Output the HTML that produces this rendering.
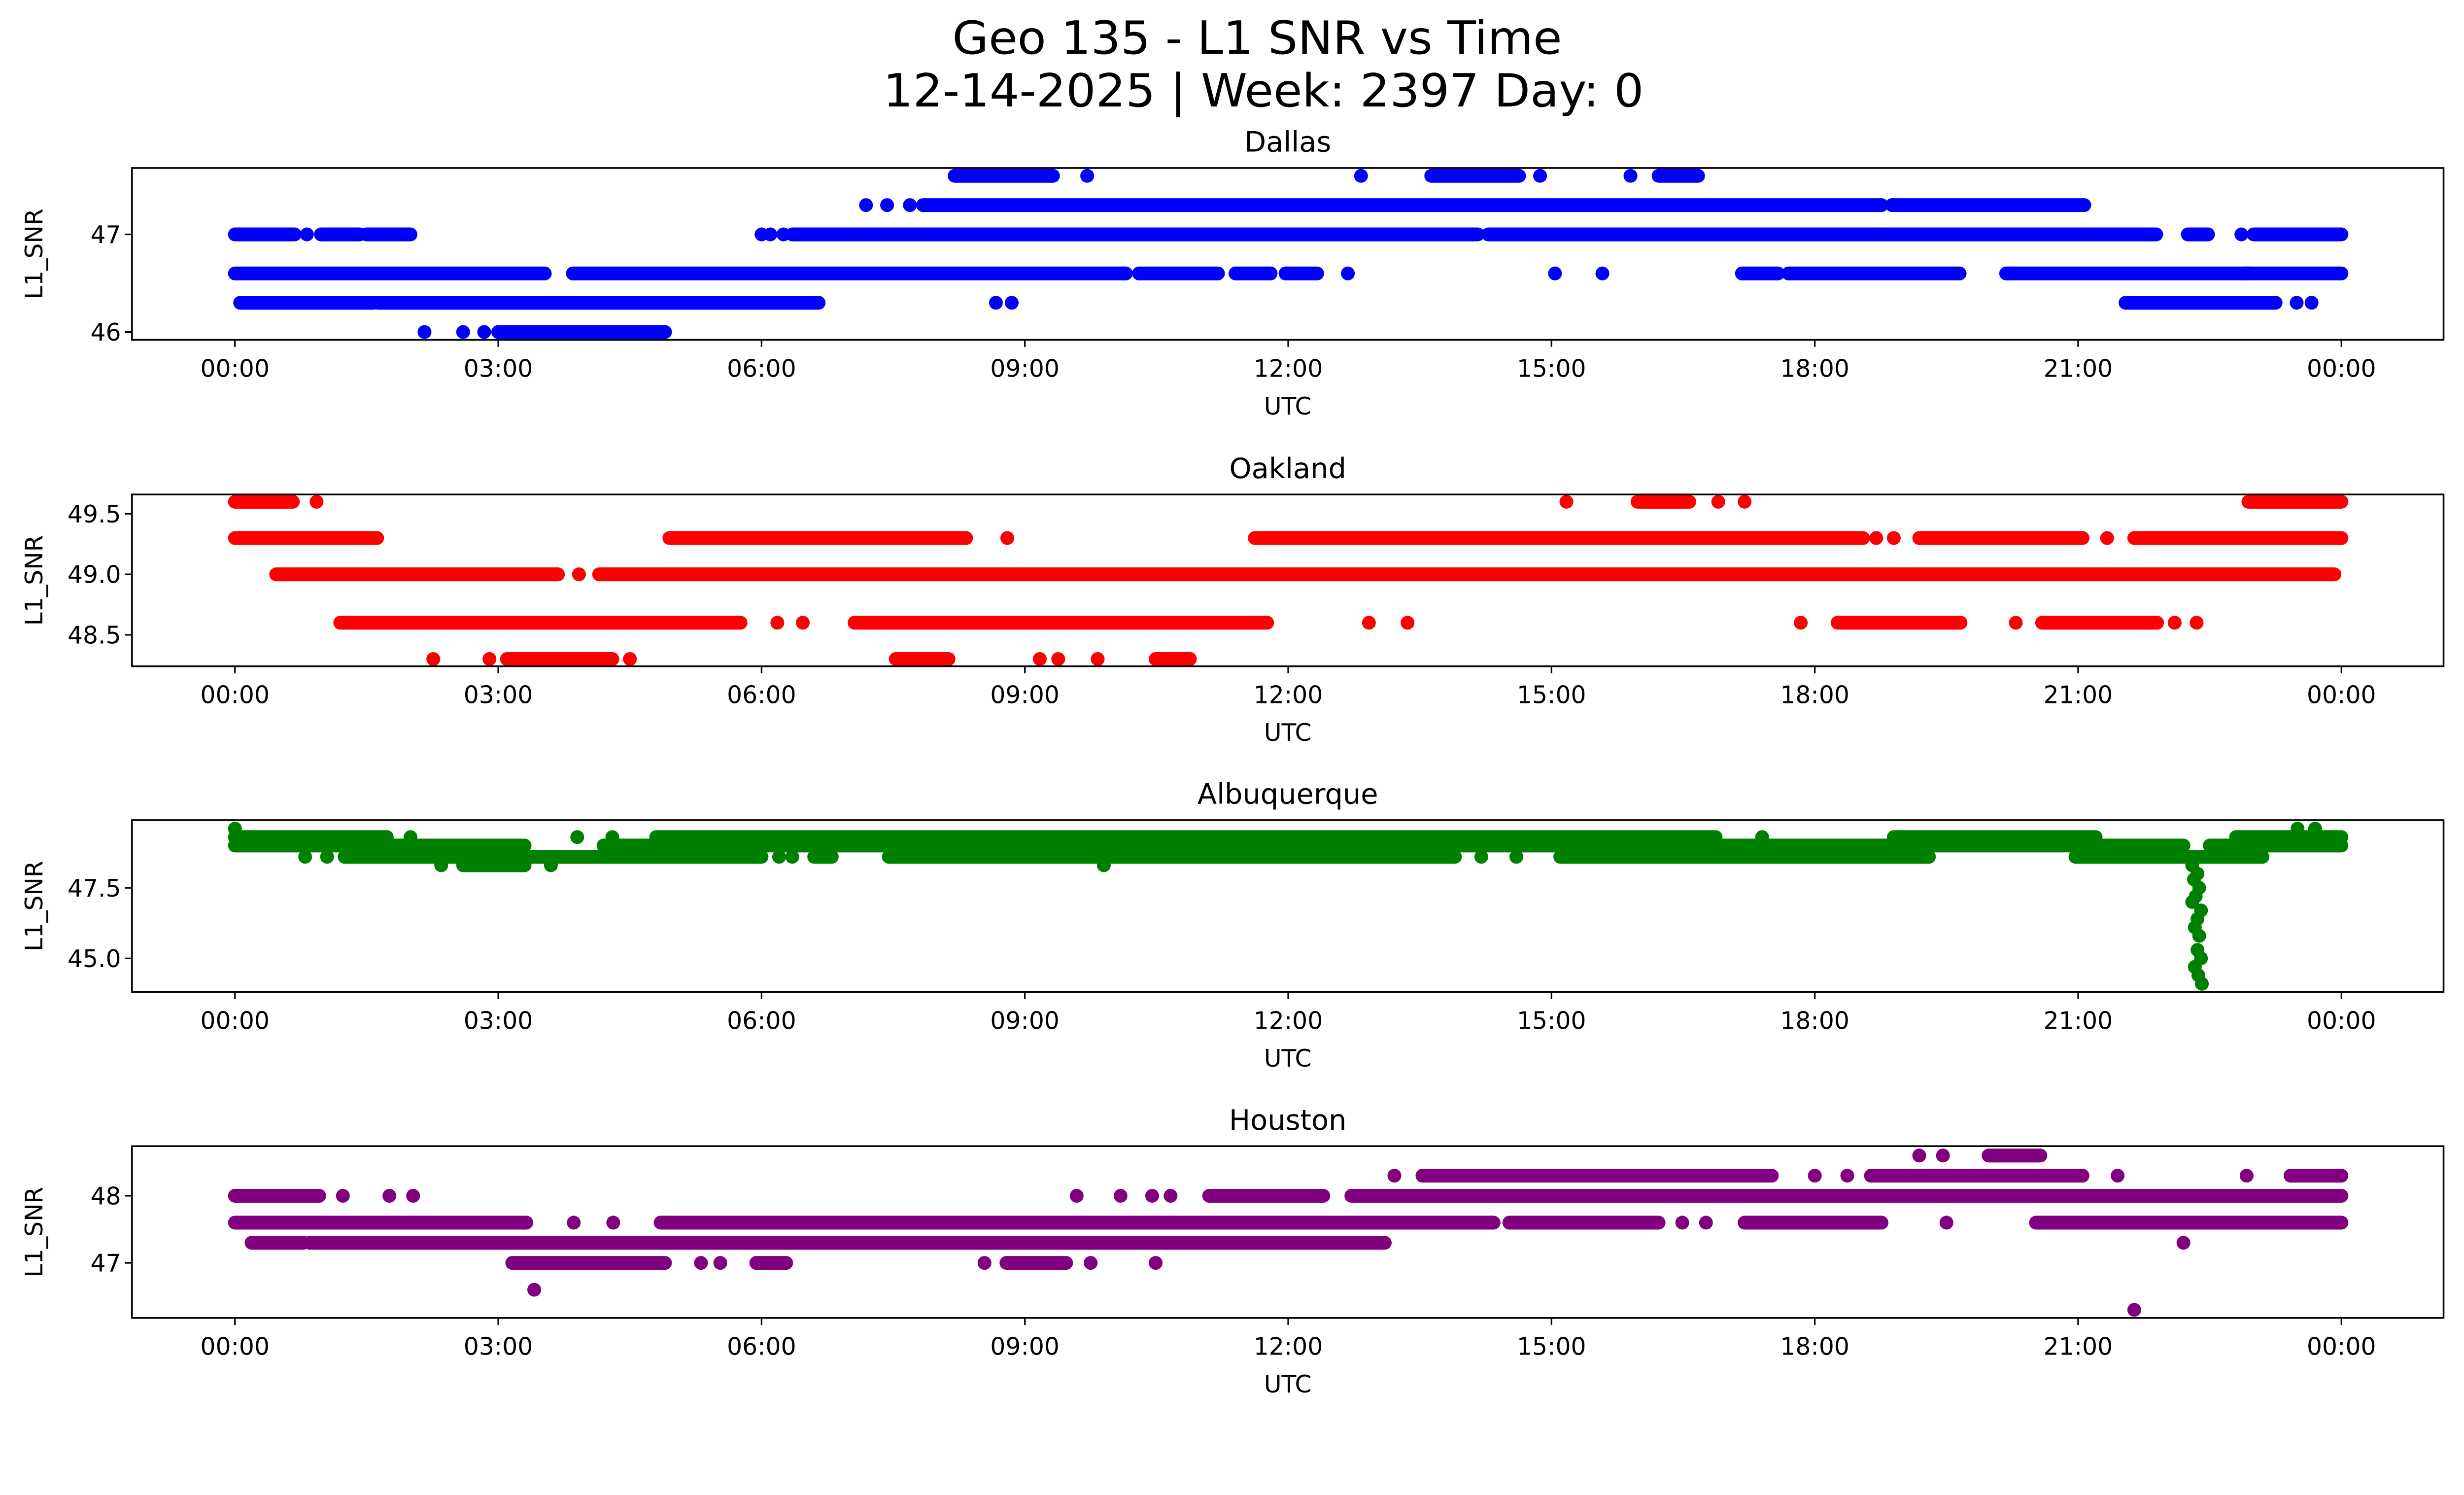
<!DOCTYPE html>
<html><head><meta charset="utf-8"><style>
html,body{margin:0;padding:0;background:#fff;overflow:hidden;}
svg{display:block;position:absolute;left:0;top:0;width:100vw;height:auto;font-family:"DejaVu Sans","Liberation Sans",sans-serif;}
</style></head><body>
<svg id="fig" xmlns="http://www.w3.org/2000/svg" viewBox="0 0 1568 901" preserveAspectRatio="xMinYMin meet">
<rect x="0" y="0" width="1568" height="901" fill="#fff"/>
<text x="800" y="34.2" font-size="29" text-anchor="middle" textLength="388" lengthAdjust="spacingAndGlyphs">Geo 135 - L1 SNR vs Time</text>
<text x="804" y="67.8" font-size="29" text-anchor="middle" textLength="484" lengthAdjust="spacingAndGlyphs">12-14-2025 | Week: 2397 Day: 0</text>
<g id="panels"></g>
</svg>
<script>
// x-axis ticks (hours) and labels
const xTickHours = [0,3,6,9,12,15,18,21,24];
const xTickLabels = ["00:00","03:00","06:00","09:00","12:00","15:00","18:00","21:00","00:00"];

// ---- Dallas ----
const dalRunV = [47.0,47.0,47.0,47.0,47.0,47.0,47.0, 46.6,46.6,46.6,46.6,46.6,46.6,46.6,46.6,46.6, 46.3,46.3,46.3, 46.0, 47.3,47.3, 47.6,47.6,47.6];
const dalRunS = [0.0,0.98,1.5,6.35,14.28,23.0,22.25, 0.0,3.85,10.3,11.4,11.97,17.17,17.7,20.18,22.9, 0.06,1.63,21.54, 3.0, 7.84,18.88, 8.2,13.63,16.22];
const dalRunE = [0.68,1.42,2.0,14.16,21.89,24.0,22.48, 3.53,10.15,11.2,11.8,12.33,17.58,19.65,24.0,22.95, 1.58,6.65,23.25, 4.9, 18.76,21.07, 9.32,14.63,16.67];
const dalDotV = [47.0,47.0,47.0,47.0,47.0, 46.6,46.6,46.6, 46.3,46.3,46.3,46.3, 46.0,46.0,46.0, 47.3,47.3,47.3, 47.6,47.6,47.6,47.6];
const dalDotT = [0.82,6.0,6.1,6.25,22.86, 12.68,15.04,15.58, 8.67,8.85,23.49,23.66, 2.16,2.6,2.84, 7.19,7.43,7.69, 9.71,12.83,14.87,15.9];

// ---- Oakland ----
const oakRunV = [49.6,49.6,49.6, 49.3,49.3,49.3,49.3,49.3, 49.0,49.0, 48.6,48.6,48.6,48.6, 48.3,48.3,48.3];
const oakRunS = [0.0,15.98,22.94, 0.0,4.95,11.62,19.19,21.64, 0.47,4.15, 1.2,7.06,18.26,20.59, 3.1,7.53,10.49];
const oakRunE = [0.66,16.57,24.0, 1.62,8.33,18.55,21.05,24.0, 3.68,23.92, 5.76,11.76,19.66,21.9, 4.3,8.13,10.88];
const oakDotV = [49.6,49.6,49.6,49.6, 49.3,49.3,49.3,49.3, 49.0, 48.6,48.6,48.6,48.6,48.6,48.6,48.6,48.6, 48.3,48.3,48.3,48.3,48.3,48.3];
const oakDotT = [0.93,15.17,16.9,17.2, 8.8,18.7,18.9,21.33, 3.92, 6.18,6.47,12.92,13.36,17.84,20.29,22.1,22.35, 2.26,2.9,4.5,9.17,9.38,9.83];

// ---- Albuquerque ----
const albRunV = [49.3,49.3,49.3,49.3, 49.0,49.0,49.0, 48.6,48.6,48.6,48.6,48.6, 48.3];
const albRunS = [0.0,4.8,18.9,22.8, 0.0,4.2,22.5, 1.25,6.6,7.45,15.1,20.97, 2.6];
const albRunE = [1.73,16.87,21.2,24.0, 3.3,22.2,24.0, 6.0,6.8,13.9,19.3,23.1, 3.3];
const albDotV = [49.6,49.6,49.6, 49.3,49.3,49.3,49.3, 48.6,48.6,48.6,48.6,48.6,48.6, 48.3,48.3,48.3, 48.3,48.0,47.8,47.5,47.2,47.0,46.7,46.4,46.1,45.8,45.3,45.0,44.7,44.4,44.1];
const albDotT = [0.0,23.5,23.7, 2.0,3.9,4.3,17.4, 0.8,1.05,6.2,6.35,14.2,14.6, 2.35,3.6,9.9, 22.3,22.36,22.32,22.38,22.34,22.3,22.4,22.36,22.33,22.38,22.36,22.4,22.33,22.37,22.41];

// ---- Houston ----
const houRunV = [48.6, 48.3,48.3,48.3, 48.0,48.0,48.0,48.0, 47.6,47.6,47.6,47.6,47.6, 47.3,47.3, 47.0,47.0,47.0];
const houRunS = [19.98, 13.53,18.64,23.42, 0.0,11.1,11.86,12.72, 0.0,4.85,14.52,17.2,20.52, 0.19,0.85, 3.16,5.94,8.79];
const houRunE = [20.57, 17.51,21.05,24.0, 0.96,11.86,12.4,24.0, 3.32,14.34,16.22,18.76,24.0, 0.78,13.1, 4.9,6.28,9.47];
const houDotV = [48.6,48.6, 48.3,48.3,48.3,48.3,48.3, 48.0,48.0,48.0,48.0,48.0,48.0,48.0, 47.6,47.6,47.6,47.6,47.6, 47.3, 47.0,47.0,47.0,47.0,47.0, 46.6, 46.3];
const houDotT = [19.19,19.46, 13.21,18.0,18.37,21.45,22.92, 1.23,1.76,2.03,9.59,10.09,10.45,10.66, 3.86,4.31,16.49,16.76,19.5, 22.2, 5.31,5.53,8.54,9.75,10.49, 3.41, 21.64];

// panel names, colours, y tick values/labels
const panelNames = ["Dallas","Oakland","Albuquerque","Houston"];
const panelColors = ["#0000ff","#ff0000","#008000","#800080"];
const yTickVals = [[46,47],[48.5,49.0,49.5],[45.0,47.5],[47,48]];
const yTickLabels = [["46","47"],["48.5","49.0","49.5"],["45.0","47.5"],["47","48"]];
const yMinVals = [45.92,48.24,43.81,46.18];
const yMaxVals = [47.68,49.66,49.90,48.74];

const runSets = [[dalRunV,dalRunS,dalRunE],[oakRunV,oakRunS,oakRunE],[albRunV,albRunS,albRunE],[houRunV,houRunS,houRunE]];
const dotSets = [[dalDotV,dalDotT],[oakDotV,oakDotT],[albDotV,albDotT],[houDotV,houDotT]];

const NS = "http://www.w3.org/2000/svg";
const root = document.getElementById("panels");
const AX_L = 84, AX_R = 1555, X0 = 149.5, X24 = 1490;
const tops = [106.9, 314.6, 521.8, 729.2];
const H = 109.3;
const R = 4.4;
function xScale(h){ return X0 + (X24 - X0) * h / 24; }
function mk(tag, attrs){ const e = document.createElementNS(NS, tag); for (const k in attrs) e.setAttribute(k, attrs[k]); return e; }

panelNames.forEach((name, p) => {
  const top = tops[p], bot = top + H;
  const yScale = v => bot - (v - yMinVals[p]) / (yMaxVals[p] - yMinVals[p]) * H;
  const g = mk("g", {});
  
  
  root.appendChild(g);

  const title = mk("text", {x: (AX_L + AX_R) / 2, y: top - 10.4, "font-size": 18, "text-anchor": "middle"});
  
  
  title.textContent = name;
  g.appendChild(title);

  const clip = mk("clipPath", {id: "clip" + p});
  clip.appendChild(mk("rect", {x: AX_L, y: top, width: AX_R - AX_L, height: H}));
  g.appendChild(clip);
  const marks = mk("g", {"clip-path": "url(#clip" + p + ")", fill: panelColors[p], stroke: panelColors[p]});
  
  
  g.appendChild(marks);

  const [rv, rs, re] = runSets[p];
  rv.forEach((v, i) => {
    const ln = mk("line", {x1: xScale(rs[i]), x2: xScale(re[i]), y1: yScale(v), y2: yScale(v), "stroke-width": 2 * R, "stroke-linecap": "round"});
    
    
    marks.appendChild(ln);
  });
  const [dv, dt] = dotSets[p];
  dv.forEach((v, i) => {
    const c = mk("ellipse", {cx: xScale(dt[i]), cy: yScale(v), rx: R, ry: R, stroke: "none"});
    
    
    marks.appendChild(c);
  });

  const frame = mk("rect", {x: AX_L, y: top, width: AX_R - AX_L, height: H, fill: "none", stroke: "#000", "stroke-width": 1.1});
  
  
  g.appendChild(frame);

  xTickHours.forEach((h, i) => {
    const x = xScale(h);
    const t = mk("line", {x1: x, x2: x, y1: bot, y2: bot + 4.5, stroke: "#000", "stroke-width": 1});
    
    
    g.appendChild(t);
    const lb = mk("text", {x: x, y: bot + 23.5, "font-size": 15.3, "text-anchor": "middle"});
    
    
    lb.textContent = xTickLabels[i];
    g.appendChild(lb);
  });
  const xl = mk("text", {x: (AX_L + AX_R) / 2, y: bot + 47.5, "font-size": 15.3, "text-anchor": "middle"});
  
  
  xl.textContent = "UTC";
  g.appendChild(xl);

  yTickVals[p].forEach((v, i) => {
    const y = yScale(v);
    const t = mk("line", {x1: AX_L - 4.5, x2: AX_L, y1: y, y2: y, stroke: "#000", "stroke-width": 1});
    
    
    g.appendChild(t);
    const lb = mk("text", {x: AX_L - 7, y: y + 5.5, "font-size": 15.3, "text-anchor": "end"});
    
    
    lb.textContent = yTickLabels[p][i];
    g.appendChild(lb);
  });
  const cy = top + H / 2;
  const yl = mk("text", {x: 0, y: 0, "font-size": 15.3, "text-anchor": "middle", transform: "translate(27," + cy + ") rotate(-90)"});
  
  
  yl.textContent = "L1_SNR";
  g.appendChild(yl);
});
</script>
</body></html>
